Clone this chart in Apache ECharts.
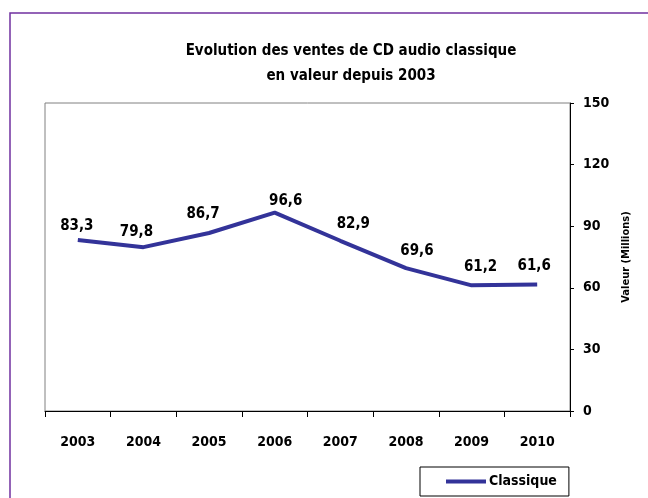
<!DOCTYPE html>
<html>
<head>
<meta charset="utf-8">
<script src="https://cdn.jsdelivr.net/npm/echarts@6/dist/echarts.min.js"></script>
<style>
    html, body { margin: 0; padding: 0; background: #fff; }
    #chart { width: 648px; height: 498px; }
</style>
</head>
<body>
<div id="chart"></div>
<script>
const years = ["2003", "2004", "2005", "2006", "2007", "2008", "2009", "2010"];
const classique = [83.3, 79.8, 86.7, 96.6, 82.9, 69.6, 61.2, 61.6];
const yTicks = [0, 30, 60, 90, 120, 150];

// labels were nudged by hand in the original chart
const labelNudge = [[-1, 0], [-7, -1], [-6, -5], [11, 2], [13, -3], [11, -3], [9, -5], [-3, -5]];

const font = '"Liberation Sans Narrow", "DejaVu Sans Condensed", sans-serif';

let chart = echarts.init(document.getElementById("chart"));
chart.setOption({
    animation: false,
    backgroundColor: "#fff",
    title: {
        text: "Evolution des ventes de CD audio classique\nen valeur depuis 2003",
        left: 346,
        top: 34,
        textAlign: "center",
        textStyle: {
            fontFamily: font,
            fontWeight: "bold",
            fontSize: 15,
            lineHeight: 25,
            color: "#000"
        }
    },
    graphic: [
        {
            type: "rect",
            shape: { x: 10, y: 13, width: 700, height: 600 },
            style: { fill: "none", stroke: "#7030a0", lineWidth: 1.5 },
            silent: true
        }
    ],
    legend: {
        left: 420,
        top: 467,
        padding: [7, 12, 7, 26],
        borderColor: "#000",
        borderWidth: 1,
        icon: "rect",
        itemWidth: 40,
        itemHeight: 4,
        textStyle: {
            fontFamily: font,
            fontWeight: "bold",
            fontSize: 14,
            lineHeight: 15,
            color: "#000",
            padding: [0, 0, 0, -2]
        },
        data: ["Classique"]
    },
    grid: {
        show: true,
        left: 45,
        right: 78,
        top: 103,
        bottom: 87,
        borderColor: "#808080",
        borderWidth: 1
    },
    xAxis: {
        type: "category",
        data: years,
        boundaryGap: true,
        axisLine: { show: true, lineStyle: { color: "#000", width: 1 } },
        axisTick: { show: true, length: 6, lineStyle: { color: "#000" } },
        axisLabel: {
            margin: 24,
            fontFamily: font,
            fontWeight: "bold",
            fontSize: 14,
            color: "#000"
        },
        splitLine: { show: false }
    },
    yAxis: {
        type: "value",
        position: "right",
        min: 0,
        max: 150,
        interval: 30,
        axisLine: { show: true, lineStyle: { color: "#000", width: 1 } },
        axisTick: { show: true, length: 4, lineStyle: { color: "#000" } },
        axisLabel: {
            margin: 13,
            fontFamily: font,
            fontWeight: "bold",
            fontSize: 14,
            color: "#000",
            customValues: yTicks
        },
        splitLine: { show: false },
        name: "Valeur (Millions)",
        nameLocation: "middle",
        nameRotate: 90,
        nameGap: 51,
        nameTextStyle: {
            fontFamily: font,
            fontWeight: "bold",
            fontSize: 11,
            color: "#000"
        }
    },
    series: [
        {
            name: "Classique",
            type: "line",
            data: classique.map(function (v, i) {
                return { value: v, label: { offset: labelNudge[i] } };
            }),
            symbol: "circle",
            symbolSize: 0.1,
            showSymbol: true,
            lineStyle: { color: "#333399", width: 4 },
            itemStyle: { color: "#333399" },
            label: {
                show: true,
                position: "top",
                distance: 6,
                fontFamily: font,
                fontWeight: "bold",
                fontSize: 15,
                color: "#000",
                formatter: function (p) {
                    return p.value.toFixed(1).replace(".", ",");
                }
            }
        }
    ]
});
</script>
</body>
</html>
